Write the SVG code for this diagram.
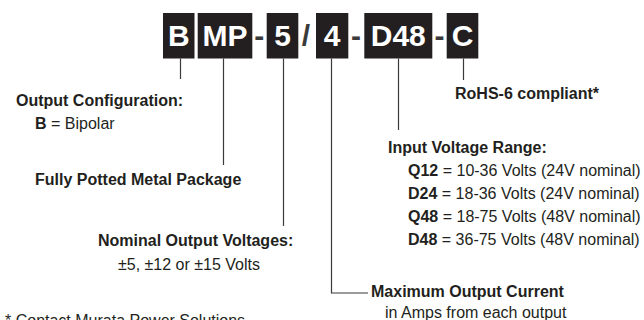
<svg xmlns="http://www.w3.org/2000/svg" width="644" height="320" viewBox="0 0 644 320">
<style>
.box{fill:#231f20}
.code{font-family:"Liberation Sans",Arial,sans-serif;font-weight:bold;font-size:30px;fill:#ffffff;text-anchor:middle}
.sep{font-family:"Liberation Sans",Arial,sans-serif;font-weight:bold;font-size:30px;fill:#3a3a3a;text-anchor:middle}
.t{font-family:"Liberation Sans",Arial,sans-serif;font-size:16px;fill:#231f20}
.b{font-weight:bold}
.ln{stroke:#3a3a3a;stroke-width:1.2;fill:none}
</style>
<rect width="644" height="320" fill="#ffffff"/>
<g id="code-B"><rect class="box" x="163" y="13" width="31.5" height="45.5"/><text class="code" x="178.8" y="46">B</text></g>
<g id="code-MP"><rect class="box" x="197.7" y="13" width="54.6" height="45.5"/><text class="code" x="225" y="46">MP</text></g>
<text class="sep" x="259.3" y="46">-</text>
<g id="code-5"><rect class="box" x="266.7" y="13" width="31.6" height="45.5"/><text class="code" x="282.5" y="46">5</text></g>
<text class="sep" x="306" y="46">/</text>
<g id="code-4"><rect class="box" x="316" y="13" width="32.3" height="45.5"/><text class="code" x="332.2" y="46">4</text></g>
<text class="sep" x="356" y="46">-</text>
<g id="code-D48"><rect class="box" x="364.3" y="13" width="68" height="45.5"/><text class="code" x="398.3" y="46">D48</text></g>
<text class="sep" x="439.5" y="46">-</text>
<g id="code-C"><rect class="box" x="446.7" y="13" width="31.6" height="45.5"/><text class="code" x="462.5" y="46">C</text></g>

<g id="connectors">
<path class="ln" d="M180.5 58.5V79"/>
<path class="ln" d="M223.5 58.5V165"/>
<path class="ln" d="M283.5 58.5V226"/>
<path class="ln" d="M331.5 58.5V293H368"/>
<path class="ln" d="M398.5 58.5V130"/>
<path class="ln" d="M463.5 58.5V80"/>
</g>

<g id="label-config">
<text class="t b" x="16" y="106">Output Configuration:</text>
<text class="t" x="35" y="129"><tspan class="b">B</tspan> = Bipolar</text>
</g>
<g id="label-package"><text class="t b" x="35" y="185">Fully Potted Metal Package</text></g>
<g id="label-voltages">
<text class="t b" x="98" y="246">Nominal Output Voltages:</text>
<text class="t" x="118" y="270">±5, ±12 or ±15 Volts</text>
</g>
<g id="label-rohs"><text class="t b" x="455" y="99">RoHS-6 compliant*</text></g>
<g id="label-input">
<text class="t b" x="388" y="153">Input Voltage Range:</text>
<text class="t" x="408" y="176"><tspan class="b">Q12</tspan> = 10-36 Volts (24V nominal)</text>
<text class="t" x="408" y="199"><tspan class="b">D24</tspan> = 18-36 Volts (24V nominal)</text>
<text class="t" x="408" y="222"><tspan class="b">Q48</tspan> = 18-75 Volts (48V nominal)</text>
<text class="t" x="408" y="245"><tspan class="b">D48</tspan> = 36-75 Volts (48V nominal)</text>
</g>
<g id="label-current">
<text class="t b" x="371" y="297">Maximum Output Current</text>
<text class="t" x="385" y="318">in Amps from each output</text>
</g>
<g id="footnote"><text class="t" x="5" y="326">* Contact Murata Power Solutions</text></g>
</svg>
